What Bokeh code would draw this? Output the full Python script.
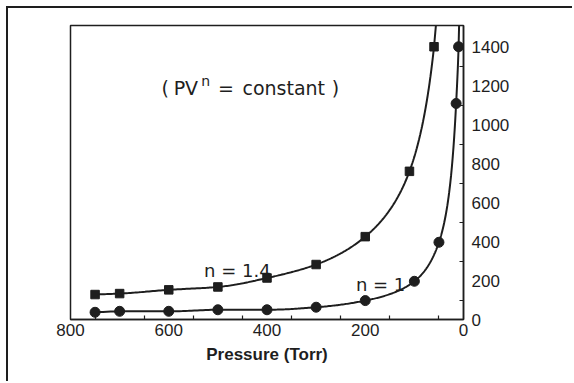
import numpy as np
from bokeh.plotting import figure
from bokeh.models import Range1d, Label, FixedTicker
from bokeh.embed import file_html
from bokeh.resources import INLINE

# Measured pressure (Torr) and volume (cm^3) for the two processes
pressure_n14 = [750, 700, 600, 500, 400, 300, 200, 110, 60]
volume_n14 = [128, 133, 152, 167, 213, 282, 425, 760, 1399]

pressure_n1 = [750, 700, 600, 500, 400, 300, 200, 100, 50, 15, 10]
volume_n1 = [37, 42, 42, 50, 50, 63, 97, 196, 396, 1108, 1399]

x_ticks = [800, 600, 400, 200, 0]
x_minor_ticks = [750, 650, 550, 450, 350, 250, 150, 50]
y_ticks = [0, 200, 400, 600, 800, 1000, 1200, 1400]
y_minor_ticks = [100, 300, 500, 700, 900, 1100, 1300]

INK = "#1e1e1e"
TICK_FONT = "Liberation Sans"
NOTE_FONT = "DejaVu Sans"


def pchip(x, y, xn):
    """Monotone cubic Hermite interpolation (Fritsch-Carlson)."""
    x = np.asarray(x, float)
    y = np.asarray(y, float)
    h = np.diff(x)
    d = np.diff(y) / h
    m = np.zeros_like(y)
    m[0], m[-1] = d[0], d[-1]
    for k in range(1, len(x) - 1):
        if d[k - 1] * d[k] <= 0:
            m[k] = 0.0
        else:
            w1 = 2 * h[k] + h[k - 1]
            w2 = h[k] + 2 * h[k - 1]
            m[k] = (w1 + w2) / (w1 / d[k - 1] + w2 / d[k])
    idx = np.clip(np.searchsorted(x, xn) - 1, 0, len(x) - 2)
    t = (xn - x[idx]) / h[idx]
    h00 = 2 * t**3 - 3 * t**2 + 1
    h10 = t**3 - 2 * t**2 + t
    h01 = -2 * t**3 + 3 * t**2
    h11 = t**3 - t**2
    return (h00 * y[idx] + h10 * h[idx] * m[idx]
            + h01 * y[idx + 1] + h11 * h[idx] * m[idx + 1]), m


def smooth_curve(p, v, v_top):
    """Smooth trend through the points in log-log space, carried past the
    lowest-pressure point until it leaves the top of the plot."""
    lp = np.log(np.asarray(p, float))[::-1]
    lv = np.log(np.asarray(v, float))[::-1]
    grid = np.linspace(lp[0], lp[-1], 400)
    lv_grid, m = pchip(lp, lv, grid)
    lp_ext = lp[0] + (np.log(v_top) - lv[0]) / m[0]
    xs = np.concatenate([[np.exp(lp_ext)], np.exp(grid)])
    ys = np.concatenate([[v_top], np.exp(lv_grid)])
    return xs, ys


p = figure(
    width=566, height=375,
    x_range=Range1d(800, 0), y_range=Range1d(0, 1508),
    y_axis_location="right",
    toolbar_location=None, output_backend="svg",
    min_border_left=62, min_border_top=17,
    min_border_right=111, min_border_bottom=64,
    margin=(6, 0, 0, 6),
    styles={"border-top": f"2px solid {INK}", "border-left": f"2px solid {INK}"},
)
p.grid.visible = False
p.background_fill_color = "white"
p.border_fill_color = "white"
p.outline_line_color = INK
p.outline_line_width = 1.5

for ax in (p.xaxis[0], p.yaxis[0]):
    ax.axis_line_color = INK
    ax.axis_line_width = 1.5
    ax.major_tick_line_color = INK
    ax.minor_tick_line_color = INK
    ax.minor_tick_line_width = 1.2
    ax.major_tick_in = 0
    ax.major_tick_out = 0
    ax.minor_tick_in = 4
    ax.minor_tick_out = 0
    ax.major_label_text_font = TICK_FONT
    ax.major_label_text_font_size = "17px"
    ax.major_label_text_color = INK

p.xaxis.ticker = FixedTicker(ticks=x_ticks, minor_ticks=x_minor_ticks)
p.yaxis.ticker = FixedTicker(ticks=y_ticks, minor_ticks=y_minor_ticks)
p.xaxis.major_label_standoff = 4
p.yaxis.major_label_standoff = 8

p.xaxis.axis_label = "Pressure (Torr)"
p.xaxis.axis_label_text_font = TICK_FONT
p.xaxis.axis_label_text_font_style = "bold"
p.xaxis.axis_label_text_font_size = "17px"
p.xaxis.axis_label_text_color = INK
p.xaxis.axis_label_standoff = 6

# Curves
for pr, vol in ((pressure_n14, volume_n14), (pressure_n1, volume_n1)):
    cx, cy = smooth_curve(pr, vol, 1700)
    p.line(cx, cy, line_color=INK, line_width=2)

p.scatter(pressure_n14, volume_n14, marker="square", size=8.5,
          fill_color=INK, line_color=INK)
p.scatter(pressure_n1, volume_n1, marker="circle", size=10,
          fill_color=INK, line_color=INK)


# Annotations
def note(x, y, text, size="18px", font=NOTE_FONT):
    p.add_layout(Label(x=x, y=y, text=text, text_font=font,
                       text_font_size=size, text_color=INK,
                       text_baseline="alphabetic", text_align="left"))


# ( PV^n = constant )
note(615, 1187, "(", size="19px")
note(590, 1187, "PV", size="19px")
note(534, 1224, "n", size="14px")
note(500, 1187, "=", size="19px")
note(450, 1187, "constant", size="19px")
note(268, 1187, ")", size="19px")

note(528, 251, "n = 1.4")
note(219, 181, "n = 1")

# Vertical title beside the right axis
p.add_layout(Label(x=-143, y=920, text="Volume  (cm³)", angle=np.pi / 2,
                   text_align="center", text_baseline="middle",
                   text_font=TICK_FONT, text_font_style="bold",
                   text_font_size="17px", text_color=INK))

open("out.html", "w").write(file_html(p, INLINE))
